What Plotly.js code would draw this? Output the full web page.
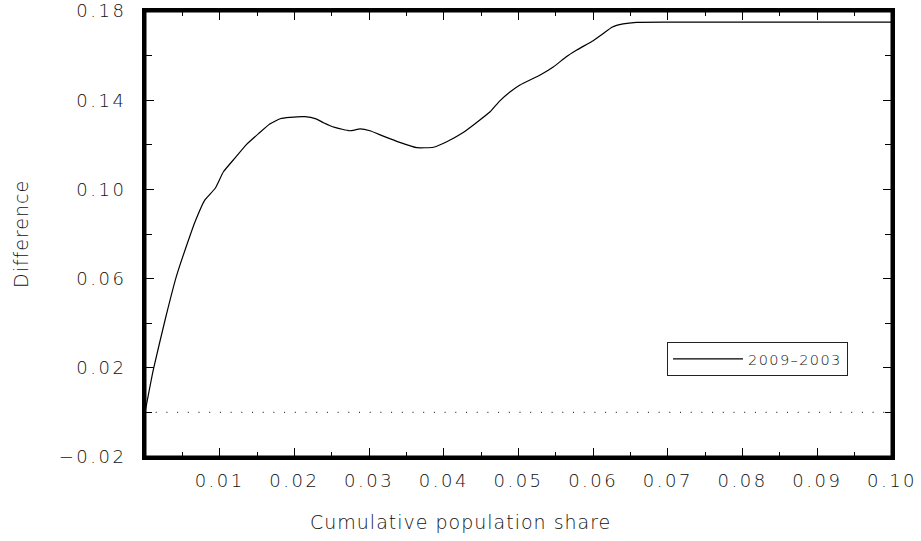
<!DOCTYPE html>
<html>
<head>
<meta charset="utf-8">
<script src="https://cdn.plot.ly/plotly-3.0.1.min.js"></script>
<style>
  html, body { margin: 0; padding: 0; background: #fff; }
  #chart { width: 921px; height: 541px; }
  .xtick text, .ytick text { letter-spacing: 2.5px; }
  .annotation-text { letter-spacing: 1px; }
  .legendtext { letter-spacing: 1.4px; }
</style>
</head>
<body>
<div id="chart"></div>
<script>
// Difference curve, 2009 minus 2003, over the bottom tenth of the population
const popShare = [0, 0.0011, 0.0028, 0.0042, 0.0060, 0.0067, 0.0080, 0.0094, 0.0105, 0.0120,
  0.0136, 0.0152, 0.0167, 0.0181, 0.0194, 0.0214, 0.0229, 0.0239, 0.0254, 0.0274,
  0.0288, 0.0301, 0.0319, 0.0341, 0.0364, 0.0386, 0.0404, 0.0426, 0.0444, 0.0462,
  0.0475, 0.0489, 0.0502, 0.0529, 0.0547, 0.0564, 0.0578, 0.0600, 0.0614, 0.0625,
  0.0640, 0.0658, 0.0700, 0.0800, 0.0900, 0.1000];
const difference = [0, 0.019, 0.043, 0.061, 0.079, 0.0855, 0.0952, 0.1005, 0.1079, 0.1139,
  0.1202, 0.1250, 0.1293, 0.1317, 0.1323, 0.1326, 0.1316, 0.1299, 0.1278, 0.1263,
  0.1271, 0.1263, 0.1239, 0.1211, 0.1187, 0.1189, 0.1214, 0.1255, 0.1300, 0.1348,
  0.1397, 0.1438, 0.1468, 0.1513, 0.1550, 0.1595, 0.1625, 0.1667, 0.1700, 0.1727,
  0.1742, 0.1749, 0.1750, 0.1750, 0.1750, 0.1750];
const seriesName = '2009\u20132003';

const xTickVals = [0.01, 0.02, 0.03, 0.04, 0.05, 0.06, 0.07, 0.08, 0.09, 0.10];
const xTickText = ['0.01', '0.02', '0.03', '0.04', '0.05', '0.06', '0.07', '0.08', '0.09', '0.10'];
const yTickVals = [-0.02, 0.02, 0.06, 0.10, 0.14, 0.18];
const yTickText = ['\u22120.02', '0.02', '0.06', '0.10', '0.14', '0.18'];

const xTitle = 'Cumulative population share';
const yTitle = 'Difference';

const W = 921, H = 541;
const margin = { l: 145, r: 29, t: 11, b: 84, pad: 0 };
const plotW = W - margin.l - margin.r;
const plotH = H - margin.t - margin.b;

const family = 'DejaVu Sans, sans-serif';
const font = { family: family, size: 18, color: '#111', weight: 200 };

const trace = {
  x: popShare,
  y: difference,
  type: 'scatter',
  mode: 'lines',
  name: seriesName,
  line: { color: '#000', width: 1.2, shape: 'spline', smoothing: 0.4 }
};

const axisCommon = {
  showgrid: false,
  zeroline: false,
  showline: true,
  linecolor: '#000',
  linewidth: 3,
  mirror: 'allticks',
  ticks: 'inside',
  tickcolor: '#000',
  tickwidth: 1,
  tickfont: font
};

const layout = {
  width: W,
  height: H,
  margin: margin,
  paper_bgcolor: '#fff',
  plot_bgcolor: '#fff',
  font: font,
  showlegend: true,
  legend: {
    x: (667 - margin.l) / plotW,
    y: (H - margin.b - 342) / plotH,
    xanchor: 'left',
    yanchor: 'top',
    bgcolor: '#fff',
    bordercolor: '#222',
    borderwidth: 1,
    font: { family: family, size: 14.5, color: '#111', weight: 200 },
    itemwidth: 70
  },
  xaxis: Object.assign({}, axisCommon, {
    range: [0, 0.1],
    tickmode: 'array',
    tickvals: xTickVals,
    ticktext: xTickText,
    ticklen: 9,
    ticklabelstandoff: 5,
    minor: { dtick: 0.005, tick0: 0, ticks: 'inside', ticklen: 5, tickcolor: '#000', tickwidth: 1 }
  }),
  yaxis: Object.assign({}, axisCommon, {
    range: [-0.02, 0.18],
    tickmode: 'array',
    tickvals: yTickVals,
    ticktext: yTickText,
    ticklen: 9,
    ticklabelstandoff: 12,
    minor: { dtick: 0.02, tick0: 0, ticks: 'inside', ticklen: 7, tickcolor: '#000', tickwidth: 1 }
  }),
  shapes: [
    {
      // zero reference line
      type: 'line',
      xref: 'paper', yref: 'y',
      x0: 0, x1: 1, y0: 0, y1: 0,
      line: { color: '#333', width: 1.2, dash: '1px,9.7px' }
    },
    {
      // heavy frame round the plotting area
      type: 'rect',
      xref: 'paper', yref: 'paper',
      x0: 0, x1: 1, y0: 0, y1: 1,
      layer: 'above',
      line: { color: '#000', width: 3 }
    }
  ],
  annotations: [
    {
      text: xTitle,
      xref: 'paper', yref: 'paper',
      x: (W / 2 - margin.l) / plotW, y: 0,
      xanchor: 'center', yanchor: 'middle',
      yshift: -65,
      showarrow: false,
      font: { family: family, size: 19, color: '#111', weight: 200 }
    },
    {
      text: yTitle,
      xref: 'paper', yref: 'paper',
      x: 0, y: 0.5,
      xanchor: 'center', yanchor: 'middle',
      xshift: 21 - margin.l,
      textangle: -90,
      showarrow: false,
      font: { family: family, size: 19, color: '#111', weight: 200 }
    }
  ]
};

Plotly.newPlot('chart', [trace], layout, { staticPlot: true, displayModeBar: false });
</script>
</body>
</html>
